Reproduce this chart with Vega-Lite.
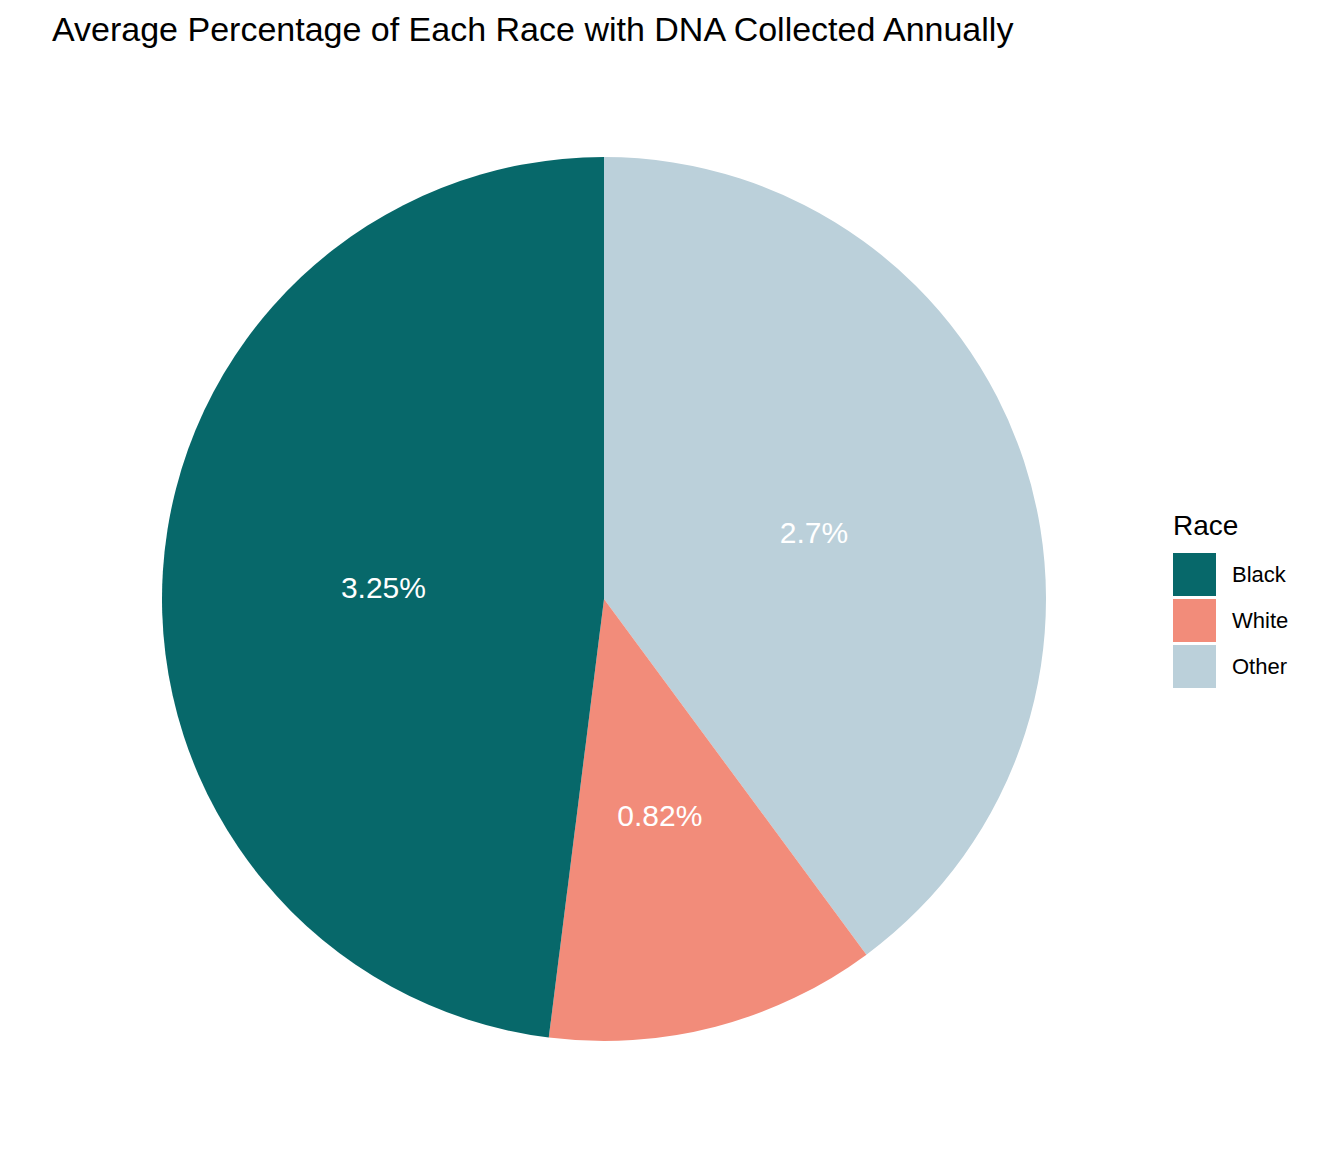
{
  "$schema": "https://vega.github.io/schema/vega-lite/v6.json",
  "autosize": "none",
  "padding": {"left": 162, "top": 157, "right": 298, "bottom": 111},
  "width": 884,
  "height": 884,
  "background": "white",
  "title": {
    "text": "Average Percentage of Each Race with DNA Collected Annually",
    "anchor": "start",
    "frame": "group",
    "dx": -110,
    "offset": 109,
    "fontSize": 34,
    "fontWeight": "normal",
    "font": "Liberation Sans",
    "color": "black"
  },
  "data": {
    "values": [
      {"Race": "Other", "pct": 2.7, "label": "2.7%", "ord": 1},
      {"Race": "White", "pct": 0.82, "label": "0.82%", "ord": 2},
      {"Race": "Black", "pct": 3.25, "label": "3.25%", "ord": 3}
    ]
  },
  "encoding": {
    "theta": {"field": "pct", "type": "quantitative", "stack": true},
    "order": {"field": "ord", "type": "quantitative", "sort": "ascending"}
  },
  "layer": [
    {
      "mark": {"type": "arc", "outerRadius": 442, "stroke": null},
      "encoding": {
        "color": {
          "field": "Race",
          "type": "nominal",
          "scale": {
            "domain": ["Black", "White", "Other"],
            "range": ["#07686A", "#F28C7A", "#BBD0DA"]
          },
          "legend": {
            "title": "Race",
            "orient": "none",
            "legendX": 1011,
            "legendY": 356,
            "padding": 0,
            "symbolType": "square",
            "symbolSize": 1849,
            "symbolStrokeWidth": 0,
            "symbolOpacity": 1,
            "rowPadding": 3,
            "labelOffset": 16,
            "labelFontSize": 22,
            "labelFont": "Liberation Sans",
            "labelColor": "black",
            "titleFontSize": 28,
            "titleFontWeight": "normal",
            "titleFont": "Liberation Sans",
            "titleColor": "black",
            "titlePadding": 12
          }
        }
      }
    },
    {
      "mark": {
        "type": "text",
        "radius": 221,
        "dy": 4,
        "fontSize": 30,
        "font": "Liberation Sans",
        "color": "white",
        "align": "center",
        "baseline": "middle"
      },
      "encoding": {
        "text": {"field": "label", "type": "nominal"}
      }
    }
  ],
  "config": {
    "view": {"stroke": null}
  }
}
